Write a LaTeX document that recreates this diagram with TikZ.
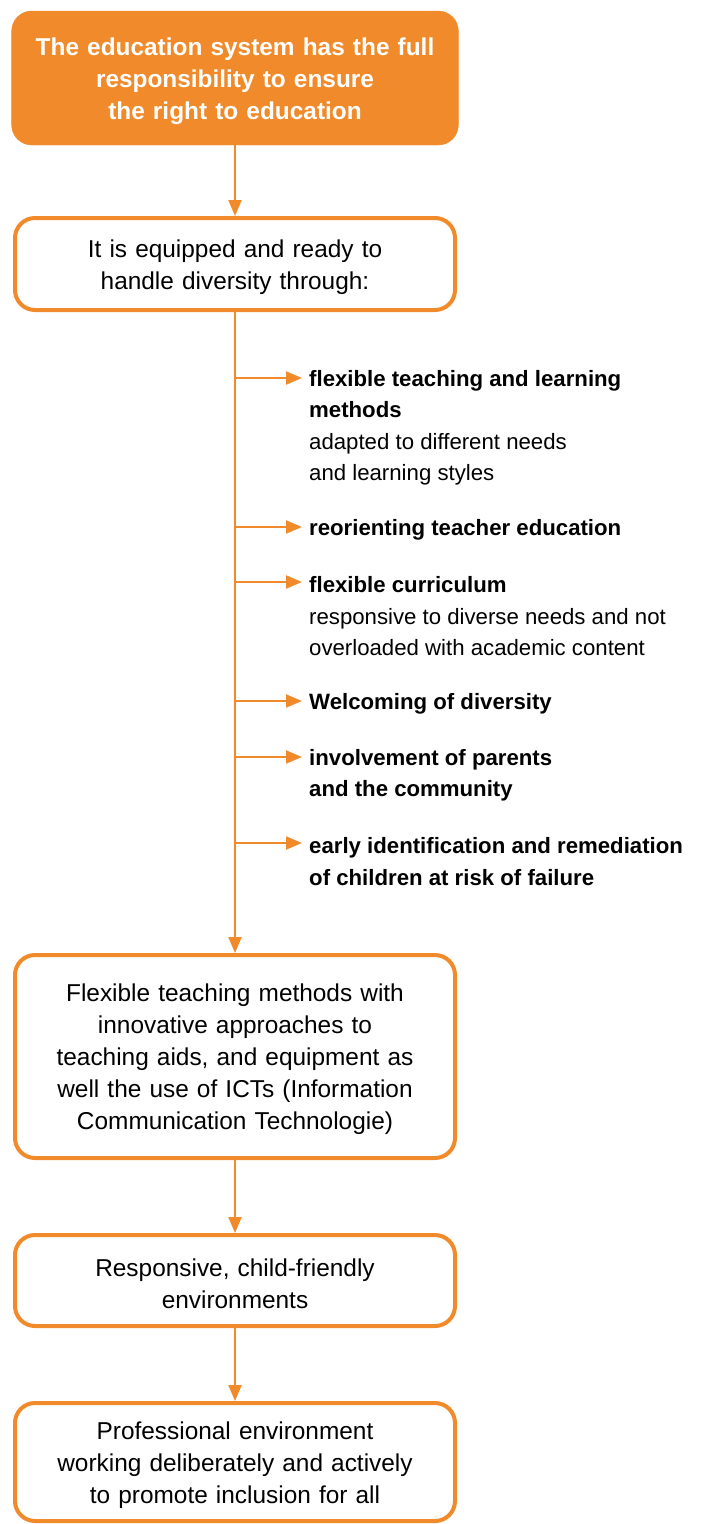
\documentclass[tikz,border=0pt]{standalone}
\usepackage{fontspec}
\setmainfont{Liberation Sans}
\usetikzlibrary{arrows.meta}
\definecolor{org}{HTML}{F08A2B}
\newcommand{\topgap}{\rule{0pt}{24pt}}
\tikzset{
  box/.style={draw=org, line width=4pt, rounded corners=20pt, fill=white, align=center, font=\fontsize{24.4}{32}\selectfont, text width=430pt, minimum width=440pt},
  topbox/.style={fill=org, draw=org, rounded corners=20pt, align=center, text=white, font=\fontsize{24.4}{32}\selectfont\bfseries, text width=440pt, minimum width=446pt, minimum height=134pt},
  arr/.style={draw=org, line width=2pt, -{Triangle[length=16pt,width=13pt]}},
  item/.style={anchor=west, inner sep=0pt, align=left, font=\fontsize{22.2}{31.5}\selectfont},
}
\begin{document}
\begin{tikzpicture}[x=1pt,y=-1pt]
\useasboundingbox (0,0) rectangle (702,1524);
\node[topbox] (b1) at (235,78) {\topgap The education system has the full\\responsibility to ensure\\the right to education};
\node[box, minimum height=92pt] (b2) at (235,264) {\topgap It is equipped and ready to\\handle diversity through:};
\node[box, minimum height=203pt] (b3) at (235,1056.5) {\topgap Flexible teaching methods with\\innovative approaches to\\teaching aids, and equipment as\\well the use of ICTs (Information\\Communication Technologie)};
\node[box, minimum height=91pt] (b4) at (235,1280.5) {\topgap Responsive, child-friendly\\environments};
\node[box, minimum height=118pt] (b5) at (235,1462) {\topgap Professional environment\\working deliberately and actively\\to promote inclusion for all};
\draw[arr] (b1.south) -- (b2.north);
\draw[arr] (b2.south) -- (b3.north);
\draw[arr] (b3.south) -- (b4.north);
\draw[arr] (b4.south) -- (b5.north);
% items
\node[item] (i1) at (309,428) {\textbf{flexible teaching and learning}\\\textbf{methods}\\adapted to different needs\\and learning styles};
\node[item] (i2) at (309,529.5) {\textbf{reorienting teacher education}};
\node[item] (i3) at (309,616.5) {\textbf{flexible curriculum}\\responsive to diverse needs and not\\overloaded with academic content};
\node[item] (i4) at (309,703.5) {\textbf{Welcoming of diversity}};
\node[item] (i5) at (309,775) {\textbf{involvement of parents}\\\textbf{and the community}};
\node[item] (i6) at (309,861.5) {\textbf{early identification and remediation}\\\textbf{of children at risk of failure}};
\coordinate (t1) at (235,378);
\coordinate (t2) at (235,527);
\coordinate (t3) at (235,582);
\coordinate (t4) at (235,701);
\coordinate (t5) at (235,757);
\coordinate (t6) at (235,843);
\foreach \k in {1,...,6} {\draw[arr, shorten >=7pt] (t\k) -- (t\k -| i\k.west);}
\end{tikzpicture}
\end{document}
